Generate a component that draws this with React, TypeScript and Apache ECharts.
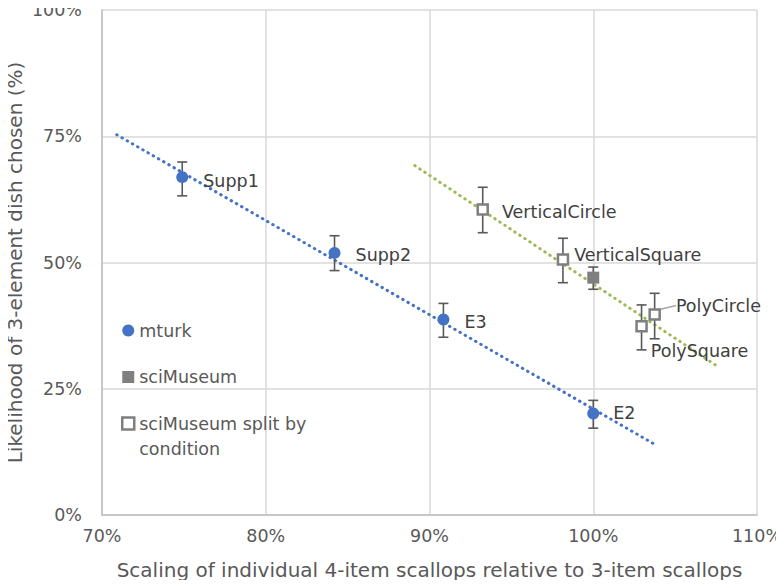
import React, { useEffect, useRef } from "react";
import * as echarts from "echarts";

// ---- data ----
const mturkNames = ["Supp1", "Supp2", "E3", "E2"];
const mturkX = [74.9, 84.2, 90.85, 100.0];
const mturkY = [66.9, 51.9, 38.7, 20.1];
const mturkLow = [63.2, 48.4, 35.2, 17.2];
const mturkHigh = [69.9, 55.3, 41.9, 22.7];

const sciX = [100.0];
const sciY = [47.0];
const sciLow = [44.7];
const sciHigh = [49.1];

const splitNames = ["VerticalCircle", "VerticalSquare", "PolyCircle", "PolySquare"];
const splitX = [93.25, 98.15, 103.75, 102.95];
const splitY = [60.5, 50.6, 39.7, 37.4];
const splitLow = [55.9, 46.0, 34.9, 32.7];
const splitHigh = [64.9, 54.8, 43.9, 41.6];

const mturkTrendX = [70.9, 103.8];
const mturkTrendY = [75.3, 13.9];
const splitTrendX = [89.1, 107.6];
const splitTrendY = [69.2, 29.4];

const xTickMin = 70;
const xTickMax = 110;
const xTickStep = 10;
const yTickMin = 0;
const yTickMax = 100;
const yTickStep = 25;

const legendNames = ["mturk", "sciMuseum", "sciMuseum split by condition"];

// label offsets (style only)
const mturkLabelOffsets = [[0, 4], [0, 2], [0, 2], [-1, 0]];
const splitLabelOffsets = [[-2, 3], [-10, -4], [0, -9], [-12, 25]];

const FONT = "'DejaVu Sans', Verdana, sans-serif";
const BLUE = "#4472C4";
const GRAY = "#7f7f7f";
const GREEN = "#9BBB59";
const ERR = "#595959";
const TXT = "#595959";

export default function App() {
  const ref = useRef<HTMLDivElement>(null);

  useEffect(() => {
    if (!ref.current) return;
    const chart = echarts.init(ref.current, null, { renderer: "svg" });

    const errData = [
      ...mturkX.map((x, i) => [x, mturkLow[i], mturkHigh[i]]),
      ...sciX.map((x, i) => [x, sciLow[i], sciHigh[i]]),
      ...splitX.map((x, i) => [x, splitLow[i], splitHigh[i]]),
    ];

    const labelStyle = {
      show: true,
      position: "right",
      distance: 15,
      color: "#404040",
      fontFamily: FONT,
      fontSize: 17.5,
    };

    const option: any = {
      animation: false,
      backgroundColor: "#ffffff",
      textStyle: { fontFamily: FONT },
      grid: {
        left: 102,
        right: 27,
        top: 10,
        bottom: 73,
        containLabel: false,
        outerBoundsMode: "none",
      },
      xAxis: {
        type: "value",
        min: xTickMin,
        max: xTickMax,
        interval: xTickStep,
        name: "Scaling of individual 4-item scallops relative to 3-item scallops",
        nameLocation: "middle",
        nameGap: 45,
        nameMoveOverlap: false,
        nameTextStyle: { color: TXT, fontSize: 20, fontFamily: FONT },
        axisLine: { show: true, lineStyle: { color: "#bfbfbf", width: 1.5 } },
        axisTick: { show: false },
        axisLabel: {
          formatter: "{value}%",
          color: TXT,
          fontSize: 17.5,
          margin: 12,
          fontFamily: FONT,
        },
        splitLine: { show: true, lineStyle: { color: "#d9d9d9", width: 1.5 } },
      },
      yAxis: {
        type: "value",
        min: yTickMin,
        max: yTickMax,
        interval: yTickStep,
        name: "Likelihood of 3-element dish chosen (%)",
        nameLocation: "middle",
        nameGap: 77,
        nameMoveOverlap: false,
        nameTextStyle: { color: TXT, fontSize: 20, fontFamily: FONT },
        axisLine: { show: true, lineStyle: { color: "#bfbfbf", width: 1.5 } },
        axisTick: { show: false },
        axisLabel: {
          formatter: "{value}%",
          color: TXT,
          fontSize: 17.5,
          lineHeight: 16,
          margin: 20,
          fontFamily: FONT,
        },
        splitLine: { show: true, lineStyle: { color: "#d9d9d9", width: 1.5 } },
      },
      legend: {
        orient: "vertical",
        left: 121,
        top: 293,
        itemWidth: 12,
        itemHeight: 12,
        itemGap: 0,
        padding: 0,
        textStyle: { color: TXT, fontSize: 17.5, fontFamily: FONT, lineHeight: 25 },
        data: [
          { name: legendNames[0], icon: "circle", textStyle: { padding: [25, 0, 25, 0] } },
          { name: legendNames[1], icon: "rect", textStyle: { lineHeight: 14 } },
          {
            name: legendNames[2],
            icon: "rect",
            itemStyle: { color: "#ffffff", borderColor: GRAY, borderWidth: 2.5 },
          },
        ],
        formatter: (n: string) =>
          n === legendNames[2] ? " \nsciMuseum split by\ncondition" : n,
      },
      series: [
        {
          name: "mturk trend",
          type: "line",
          data: mturkTrendX.map((x, i) => [x, mturkTrendY[i]]),
          symbol: "none",
          lineStyle: { color: BLUE, width: 3, type: [0.5, 5.5], cap: "round" },
          z: 1,
          silent: true,
        },
        {
          name: "split trend",
          type: "line",
          data: splitTrendX.map((x, i) => [x, splitTrendY[i]]),
          symbol: "none",
          lineStyle: { color: GREEN, width: 3, type: [0.5, 5.5], cap: "round" },
          z: 1,
          silent: true,
        },
        {
          name: "error bars",
          type: "custom",
          z: 2,
          silent: true,
          data: errData,
          renderItem: (params: any, api: any) => {
            const x = api.value(0);
            const lo = api.coord([x, api.value(1)]);
            const hi = api.coord([x, api.value(2)]);
            const w = 5;
            const st = { stroke: ERR, lineWidth: 1.6 };
            return {
              type: "group",
              children: [
                { type: "line", shape: { x1: lo[0], y1: lo[1], x2: hi[0], y2: hi[1] }, style: st },
                { type: "line", shape: { x1: lo[0] - w, y1: lo[1], x2: lo[0] + w, y2: lo[1] }, style: st },
                { type: "line", shape: { x1: hi[0] - w, y1: hi[1], x2: hi[0] + w, y2: hi[1] }, style: st },
              ],
            };
          },
        },
        {
          name: legendNames[0],
          type: "scatter",
          symbol: "circle",
          symbolSize: 12,
          z: 3,
          itemStyle: { color: BLUE, opacity: 1 },
          data: mturkX.map((x, i) => ({
            value: [x, mturkY[i]],
            name: mturkNames[i],
            label: { offset: mturkLabelOffsets[i] },
          })),
          label: { ...labelStyle, formatter: (p: any) => p.name },
        },
        {
          name: legendNames[1],
          type: "scatter",
          symbol: "rect",
          symbolSize: 12,
          z: 3,
          itemStyle: { color: GRAY, opacity: 1 },
          data: sciX.map((x, i) => [x, sciY[i]]),
        },
        {
          name: legendNames[2],
          type: "scatter",
          symbol: "rect",
          symbolSize: 10,
          z: 3,
          itemStyle: { color: "#ffffff", borderColor: GRAY, borderWidth: 2.5, opacity: 1 },
          data: splitX.map((x, i) => ({
            value: [x, splitY[i]],
            name: splitNames[i],
            labelLine:
              splitNames[i] === "PolyCircle"
                ? { show: true, length2: 0, lineStyle: { color: "#a6a6a6", width: 1.5 } }
                : { show: false },
          })),
          labelLayout: (p: any) => ({
            dx: splitLabelOffsets[p.dataIndex][0],
            dy: splitLabelOffsets[p.dataIndex][1],
          }),
          label: { ...labelStyle, formatter: (p: any) => p.name },
        },
      ],
    };

    chart.setOption(option);
    return () => chart.dispose();
  }, []);

  return <div ref={ref} style={{ width: 784, height: 588, margin: -8 }} />;
}
